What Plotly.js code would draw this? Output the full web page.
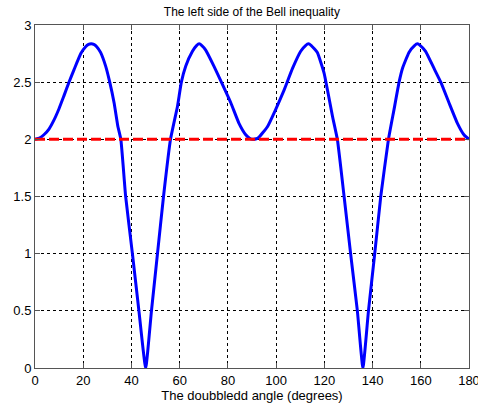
<!DOCTYPE html>
<html>
<head>
<meta charset="utf-8">
<script src="https://cdn.plot.ly/plotly-3.0.1.min.js"></script>
<style>html,body{margin:0;padding:0;background:#fff;}#chart{width:478px;height:407px;}</style>
</head>
<body>
<div id="chart"></div>
<script>
// Doubled angle (degrees) and left side of the Bell inequality
const angles = [0, 1.8, 3.7, 5.8, 7.9, 10.0, 12.0, 14.1, 16.2, 19.0, 21.0, 22.2, 23.3, 24.4, 25.6, 27.2, 29.3, 31.0, 32.8, 34.4, 35.6,
  37.6, 40.4, 43.1, 45.9, 48.3, 50.8, 53.3, 56.2, 59.1, 60.7, 62.5, 65.3, 67.0, 68.1, 69.2, 70.8, 74.2, 77.3,
  81.2, 84.6, 87.4, 89.0, 90.4, 91.8, 92.9, 96.4, 99.8, 103.3, 106.8, 110.2, 112.2, 113.4, 114.6, 117.1, 119.9, 121.5, 123.4, 125.4,
  128.2, 130.9, 133.7, 136.0, 138.3, 140.9, 143.4, 146.6, 148.9, 151.0, 152.4, 155.1, 157.4, 158.6, 159.8, 162.0,
  165.5, 168.3, 171.7, 175.2, 177.9, 180];
const bellValues = [2.00, 2.01, 2.04, 2.09, 2.17, 2.27, 2.38, 2.50, 2.61, 2.75, 2.81, 2.83, 2.835, 2.83, 2.81, 2.76, 2.64, 2.50, 2.32, 2.11, 2.00,
  1.50, 1.00, 0.50, 0.00, 0.50, 1.00, 1.50, 2.00, 2.29, 2.50, 2.64, 2.77, 2.82, 2.835, 2.82, 2.78, 2.64, 2.50,
  2.32, 2.14, 2.04, 2.01, 2.00, 2.005, 2.02, 2.11, 2.26, 2.43, 2.62, 2.77, 2.82, 2.835, 2.82, 2.76, 2.58, 2.41, 2.20, 2.00,
  1.50, 1.00, 0.50, 0.00, 0.50, 1.00, 1.50, 2.00, 2.26, 2.50, 2.62, 2.76, 2.82, 2.835, 2.82, 2.77,
  2.62, 2.50, 2.32, 2.14, 2.04, 2.00];
const limitX = [0, 180];
const limitY = [2, 2];
const xTicks = [0, 20, 40, 60, 80, 100, 120, 140, 160, 180];
const yTicks = [0, 0.5, 1, 1.5, 2, 2.5, 3];
const yTickText = ["0", "0.5", "1", "1.5", "2", "2.5", "3"];

const font = {family: "Liberation Sans, Arial, sans-serif", size: 13, color: "#000"};

const traces = [
  {x: angles, y: bellValues, type: "scatter", mode: "lines",
   line: {color: "#0000ff", width: 3, shape: "spline", smoothing: 0.4}, hoverinfo: "skip"},
  {x: limitX, y: limitY, type: "scatter", mode: "lines",
   line: {color: "#ff0000", width: 3, dash: "10px,4px"}, hoverinfo: "skip"}
];

const axisCommon = {
  showgrid: true, gridcolor: "#000", griddash: "dot", gridwidth: 1,
  showline: true, linecolor: "#555", linewidth: 1, mirror: "ticks",
  ticks: "inside", ticklen: 5, tickcolor: "#555", zeroline: false,
  tickfont: font, ticklabeloverflow: "allow"
};

const layout = {
  width: 478, height: 407,
  margin: {l: 35, r: 9, t: 25, b: 39, pad: 0},
  paper_bgcolor: "#fff", plot_bgcolor: "#fff",
  showlegend: false,
  font: font,
  title: {text: "The left side of the Bell inequality", font: {family: font.family, size: 12, color: "#000"},
          x: 0.527, xanchor: "center", y: 1 - 12/407, yanchor: "middle"},
  xaxis: Object.assign({}, axisCommon, {
    range: [0, 180], tickvals: xTicks, ticktext: xTicks.map(String),
    title: {text: "The doubbledd angle (degrees)", font: font, standoff: 2}
  }),
  yaxis: Object.assign({}, axisCommon, {
    range: [0, 3], tickvals: yTicks, ticktext: yTickText
  })
};

Plotly.newPlot("chart", traces, layout, {staticPlot: true, displayModeBar: false});
</script>
</body>
</html>
